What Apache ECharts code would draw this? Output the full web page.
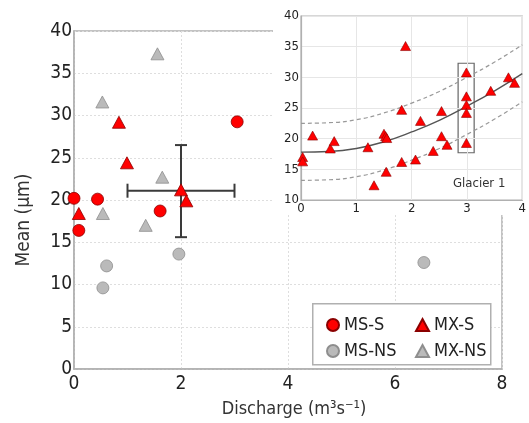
<!DOCTYPE html>
<html>
<head>
<meta charset="utf-8">
<script src="https://cdn.jsdelivr.net/npm/echarts@6/dist/echarts.min.js"></script>
<style>html,body{margin:0;padding:0;background:#fff;}#c{width:529px;height:423px;}</style>
</head>
<body>
<div id="c"></div>
<script>
// ---- main chart data ----
const msS_x = [0.0, 0.09, 0.44, 1.61, 3.05];
const msS_y = [20.2, 16.4, 20.1, 18.7, 29.25];
const mxS_x = [0.09, 0.84, 0.99, 2.0, 2.1];
const mxS_y = [18.4, 29.2, 24.4, 21.2, 19.9];
const msNS_x = [0.61, 0.54, 1.96, 6.54];
const msNS_y = [12.2, 9.6, 13.6, 12.6];
const mxNS_x = [1.56, 0.53, 1.65, 0.54, 1.34];
const mxNS_y = [37.3, 31.6, 22.7, 18.4, 17.0];
// error bar: centre, x range, y range
const errCentre = [2.0, 21.1];
const errX = [1.0, 3.0];
const errY = [15.6, 26.5];
const mainXTicks = [0, 2, 4, 6, 8];
const mainYTicks = [0, 5, 10, 15, 20, 25, 30, 35, 40];

// ---- inset (Glacier 1) data ----
const glacierX = [0.03, 0.03, 0.21, 0.53, 0.6, 1.21, 1.32, 1.5, 1.53, 1.55, 1.54, 1.82, 1.82, 1.89, 2.07, 2.16, 2.39, 2.54, 2.54, 2.64, 2.99, 2.99, 2.99, 2.99, 2.99, 3.43, 3.75, 3.86];
const glacierY = [17.0, 16.3, 20.5, 18.4, 19.6, 18.6, 12.4, 20.8, 20.4, 20.1, 14.6, 24.7, 16.2, 35.1, 16.6, 22.9, 18.0, 24.5, 20.4, 19.0, 30.8, 26.9, 25.5, 24.2, 19.3, 27.8, 30.0, 29.1];
const fitX = [0, 0.5, 1, 1.5, 2, 2.5, 3, 3.5, 4];
const fitMid = [17.8, 17.9, 18.4, 19.5, 21.1, 23.0, 25.3, 27.8, 30.6];
const fitUpper = [22.5, 22.6, 23.1, 24.2, 25.8, 27.7, 30.0, 32.5, 35.3];
const fitLower = [13.2, 13.3, 13.8, 14.9, 16.5, 18.4, 20.7, 23.2, 26.0];
const boxX = [2.84, 3.13];
const boxY = [17.7, 32.3];
const insetLabel = 'Glacier 1';

const zip = (xs, ys) => xs.map((x, i) => [x, ys[i]]);
const FONT = '"DejaVu Sans Condensed", "DejaVu Sans", sans-serif';
const RED = '#ff0000', RED_B = '#8a0000';
const GRAY = '#bababa', GRAY_B = '#8e8e8e';
const AXC = '#b0b0b0';

const chart = echarts.init(document.getElementById('c'), null, {renderer: 'canvas'});

const option = {
  animation: false,
  backgroundColor: '#fff',
  textStyle: {fontFamily: FONT},
  grid: [
    {left: 74, top: 31, right: 27, bottom: 46, show: true, borderColor: AXC, borderWidth: 1.5, backgroundColor: 'transparent', z: 0},
    {left: 301, top: 16, right: 3, bottom: 223, show: true, borderColor: AXC, borderWidth: 1.2, backgroundColor: 'transparent', z: 3}
  ],
  xAxis: [
    {gridIndex: 0, type: 'value', min: mainXTicks[0], max: mainXTicks[mainXTicks.length - 1], interval: 2,
     name: 'Discharge (m³s⁻¹)', nameLocation: 'middle', nameGap: 31,
     nameTextStyle: {fontSize: 18, color: '#333', fontFamily: FONT, padding: [0, 0, 0, 12]},
     axisLine: {lineStyle: {color: AXC, width: 1.5}}, axisTick: {show: false},
     axisLabel: {fontSize: 19, color: '#222', margin: 6, fontFamily: FONT},
     splitLine: {show: true, lineStyle: {color: '#dedede', type: [2, 2], width: 1}}, z: 0},
    {gridIndex: 1, type: 'value', min: 0, max: 4, interval: 1,
     axisLine: {lineStyle: {color: AXC, width: 1.2}}, axisTick: {show: false},
     axisLabel: {fontSize: 13, color: '#222', margin: 2, fontFamily: FONT},
     splitLine: {show: true, lineStyle: {color: '#e6e6e6', width: 1}}, z: 3}
  ],
  yAxis: [
    {gridIndex: 0, type: 'value', min: mainYTicks[0], max: mainYTicks[mainYTicks.length - 1], interval: 5,
     name: 'Mean (µm)', nameLocation: 'middle', nameGap: 40,
     nameTextStyle: {fontSize: 19, color: '#333', fontFamily: FONT, padding: [0, 40, 0, 0]},
     axisLine: {lineStyle: {color: AXC, width: 1.5}}, axisTick: {show: false},
     axisLabel: {fontSize: 19, color: '#222', margin: 2, fontFamily: FONT},
     splitLine: {show: true, lineStyle: {color: '#dedede', type: [2, 2], width: 1}}, z: 0},
    {gridIndex: 1, type: 'value', min: 10, max: 40, interval: 5,
     axisLine: {lineStyle: {color: AXC, width: 1.2}}, axisTick: {show: false},
     axisLabel: {fontSize: 13, color: '#222', margin: 2, fontFamily: FONT},
     splitLine: {show: true, lineStyle: {color: '#e6e6e6', width: 1}}, z: 3}
  ],
  legend: [
    {left: 321, top: 311, orient: 'vertical', itemGap: 8, itemWidth: 12, itemHeight: 12,
     textStyle: {fontSize: 18, color: '#222', fontFamily: FONT},
     data: [{name: 'MS-S', icon: 'circle'}, {name: 'MS-NS', icon: 'circle'}]},
    {left: 410, top: 311, orient: 'vertical', itemGap: 8, itemWidth: 13, itemHeight: 12,
     textStyle: {fontSize: 18, color: '#222', fontFamily: FONT},
     data: [{name: 'MX-S', icon: 'triangle'}, {name: 'MX-NS', icon: 'triangle'}]}
  ],
  graphic: {
    elements: [
      {type: 'rect', left: 273, top: 0, z: 1, shape: {width: 256, height: 215}, style: {fill: '#fff'}},
      {type: 'rect', left: 312, top: 303, z: 1, shape: {width: 178, height: 61}, style: {fill: '#fff', stroke: AXC, lineWidth: 1.5}},
      {type: 'text', left: 453, top: 177, z: 10, style: {text: insetLabel, font: '13px ' + FONT, fill: '#333'}}
    ]
  },
  series: [
    {type: 'custom', xAxisIndex: 0, yAxisIndex: 0, z: 1, silent: true,
     data: [[errCentre[0], errCentre[1], errX[0], errX[1], errY[0], errY[1]]],
     renderItem: function (params, api) {
       const c = api.coord([api.value(0), api.value(1)]);
       const l = api.coord([api.value(2), api.value(1)]);
       const r = api.coord([api.value(3), api.value(1)]);
       const b = api.coord([api.value(0), api.value(4)]);
       const t = api.coord([api.value(0), api.value(5)]);
       const st = {stroke: '#3a3a3a', lineWidth: 2};
       const capH = 7, capV = 6;
       return {type: 'group', children: [
         {type: 'line', shape: {x1: l[0], y1: c[1], x2: r[0], y2: c[1]}, style: st},
         {type: 'line', shape: {x1: c[0], y1: t[1], x2: c[0], y2: b[1]}, style: st},
         {type: 'line', shape: {x1: l[0], y1: c[1] - capH, x2: l[0], y2: c[1] + capH}, style: st},
         {type: 'line', shape: {x1: r[0], y1: c[1] - capH, x2: r[0], y2: c[1] + capH}, style: st},
         {type: 'line', shape: {x1: c[0] - capV, y1: t[1], x2: c[0] + capV, y2: t[1]}, style: st},
         {type: 'line', shape: {x1: c[0] - capV, y1: b[1], x2: c[0] + capV, y2: b[1]}, style: st}
       ]};
     }},
    {name: 'MS-S', type: 'scatter', xAxisIndex: 0, yAxisIndex: 0, symbol: 'circle', symbolSize: 12, z: 2,
     itemStyle: {color: RED, borderColor: RED_B, borderWidth: 0.8, opacity: 1}, data: zip(msS_x, msS_y)},
    {name: 'MX-S', type: 'scatter', xAxisIndex: 0, yAxisIndex: 0, symbol: 'triangle', symbolSize: [13, 12], z: 2,
     itemStyle: {color: RED, borderColor: RED_B, borderWidth: 0.8, opacity: 1}, data: zip(mxS_x, mxS_y)},
    {name: 'MS-NS', type: 'scatter', xAxisIndex: 0, yAxisIndex: 0, symbol: 'circle', symbolSize: 12, z: 2,
     itemStyle: {color: GRAY, borderColor: GRAY_B, borderWidth: 0.8, opacity: 1}, data: zip(msNS_x, msNS_y)},
    {name: 'MX-NS', type: 'scatter', xAxisIndex: 0, yAxisIndex: 0, symbol: 'triangle', symbolSize: [13, 12], z: 2,
     itemStyle: {color: GRAY, borderColor: GRAY_B, borderWidth: 0.8, opacity: 1}, data: zip(mxNS_x, mxNS_y)},
    // inset
    {type: 'line', xAxisIndex: 1, yAxisIndex: 1, smooth: true, showSymbol: false, symbol: 'none', z: 5, silent: true,
     lineStyle: {color: '#999', width: 1.2, type: [4, 3]}, data: zip(fitX, fitUpper)},
    {type: 'line', xAxisIndex: 1, yAxisIndex: 1, smooth: true, showSymbol: false, symbol: 'none', z: 5, silent: true,
     lineStyle: {color: '#999', width: 1.2, type: [4, 3]}, data: zip(fitX, fitLower)},
    {type: 'line', xAxisIndex: 1, yAxisIndex: 1, smooth: true, showSymbol: false, symbol: 'none', z: 5, silent: true,
     lineStyle: {color: '#555', width: 1.4}, data: zip(fitX, fitMid),
     markArea: {silent: true, itemStyle: {color: 'rgba(0,0,0,0)', borderColor: '#666', borderWidth: 1.2},
       data: [[{coord: [boxX[0], boxY[1]]}, {coord: [boxX[1], boxY[0]]}]]}},
    {type: 'scatter', xAxisIndex: 1, yAxisIndex: 1, symbol: 'triangle', symbolSize: [10, 9], z: 6, silent: true,
     itemStyle: {color: RED, borderColor: RED_B, borderWidth: 0.6, opacity: 1}, data: zip(glacierX, glacierY)}
  ]
};
chart.setOption(option);
</script>
</body>
</html>
